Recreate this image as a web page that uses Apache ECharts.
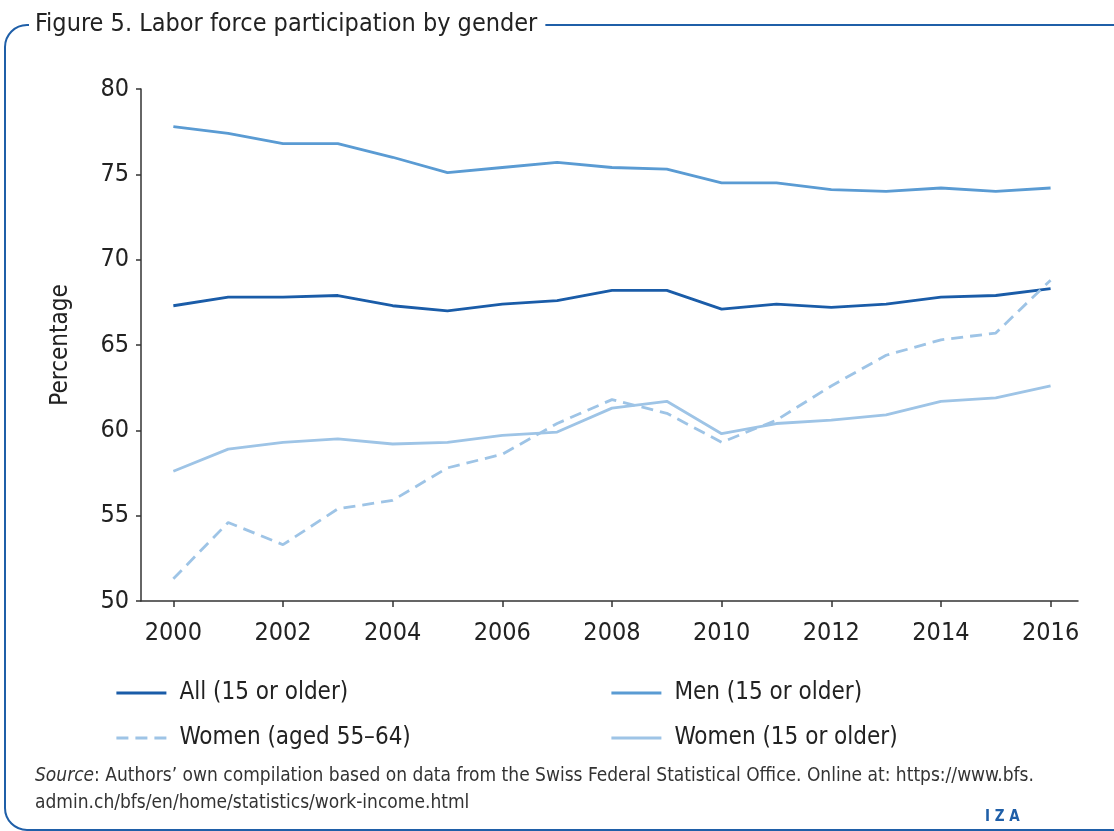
<!DOCTYPE html>
<html>
<head>
<meta charset="utf-8">
<script src="https://cdn.jsdelivr.net/npm/echarts@6/dist/echarts.min.js"></script>
<style>
  html, body { margin: 0; padding: 0; background: #fff; }
  #chart { width: 1114px; height: 831px; }
</style>
</head>
<body>
<div id="chart"></div>
<script>
// data
const years = [2000, 2001, 2002, 2003, 2004, 2005, 2006, 2007, 2008, 2009, 2010, 2011, 2012, 2013, 2014, 2015, 2016]
const allPeople = [67.3, 67.8, 67.8, 67.9, 67.3, 67.0, 67.4, 67.6, 68.2, 68.2, 67.1, 67.4, 67.2, 67.4, 67.8, 67.9, 68.3]
const men = [77.8, 77.4, 76.8, 76.8, 76.0, 75.1, 75.4, 75.7, 75.4, 75.3, 74.5, 74.5, 74.1, 74.0, 74.2, 74.0, 74.2]
const womenOlder = [51.3, 54.6, 53.3, 55.4, 55.9, 57.8, 58.6, 60.4, 61.8, 61.0, 59.3, 60.6, 62.6, 64.4, 65.3, 65.7, 68.8]
const women = [57.6, 58.9, 59.3, 59.5, 59.2, 59.3, 59.7, 59.9, 61.3, 61.7, 59.8, 60.4, 60.6, 60.9, 61.7, 61.9, 62.6]
const yearTicks = [2000, 2002, 2004, 2006, 2008, 2010, 2012, 2014, 2016]

const font = '"Liberation Sans Narrow", "DejaVu Sans Condensed", sans-serif'
const pairs = arr => years.map((y, i) => [y, arr[i]])

function line(name, arr, color, dashed) {
  return {
    name,
    type: 'line',
    data: pairs(arr),
    symbol: 'none',
    silent: true,
    lineStyle: { color, width: 2.8, type: dashed ? [12, 7] : 'solid' },
    itemStyle: { color },
  }
}

const legendBase = {
  orient: 'vertical',
  top: 676,
  itemWidth: 50,
  itemHeight: 14,
  itemGap: 21,
  selectedMode: false,
  itemStyle: { color: 'transparent', borderWidth: 0, opacity: 0 },
  lineStyle: { width: 2.8 },
  textStyle: { fontSize: 24, color: '#222', padding: [0, 0, 0, 8], fontFamily: font },
}

const chart = echarts.init(document.getElementById('chart'))
chart.setOption({
  animation: false,
  textStyle: { fontFamily: font },
  grid: { left: 141, right: 36, top: 89, bottom: 230 },
  xAxis: {
    type: 'value',
    min: 1999.41,
    max: 2016.5,
    splitLine: { show: false },
    axisLine: { lineStyle: { color: '#333', width: 1.5 } },
    axisTick: { show: true, length: 6, lineStyle: { color: '#333', width: 1.5 }, customValues: yearTicks },
    axisLabel: { customValues: yearTicks, fontSize: 25, color: '#222', margin: 20, fontFamily: font, formatter: v => String(v) },
  },
  yAxis: {
    type: 'value',
    min: 50,
    max: 80,
    interval: 5,
    name: 'Percentage',
    nameLocation: 'middle',
    nameGap: 68,
    nameTextStyle: { fontSize: 24, color: '#222', fontFamily: font },
    splitLine: { show: false },
    axisLine: { show: true, lineStyle: { color: '#333', width: 1.5 } },
    axisTick: { show: true, length: 5, lineStyle: { color: '#333', width: 1.5 } },
    axisLabel: { fontSize: 25, color: '#222', margin: 12, fontFamily: font },
  },
  legend: [
    Object.assign({}, legendBase, { left: 110, data: ['All (15 or older)', 'Women (aged 55–64)'] }),
    Object.assign({}, legendBase, { left: 605, data: ['Men (15 or older)', 'Women (15 or older)'] }),
  ],
  series: [
    line('All (15 or older)', allPeople, '#1a5ca8', false),
    line('Men (15 or older)', men, '#5a9bd3', false),
    line('Women (aged 55–64)', womenOlder, '#9ec4e6', true),
    line('Women (15 or older)', women, '#9ec4e6', false),
  ],
  graphic: [
    {
      type: 'rect',
      shape: { x: 5, y: 25, width: 1200, height: 805, r: 22 },
      style: { fill: 'none', stroke: '#1f5fa8', lineWidth: 2 },
      silent: true,
    },
    {
      type: 'text',
      left: 29,
      top: 12,
      style: {
        text: 'Figure 5. Labor force participation by gender',
        font: '25px ' + font,
        fill: '#222',
        backgroundColor: '#fff',
        padding: [0, 8, 0, 6],
      },
    },
    {
      type: 'text',
      left: 35,
      top: 763,
      style: {
        text: '{i|Source}: Authors’ own compilation based on data from the Swiss Federal Statistical Office. Online at: https://www.bfs.\nadmin.ch/bfs/en/home/statistics/work-income.html',
        font: '19px ' + font,
        fill: '#333',
        lineHeight: 27,
        rich: { i: { fontStyle: 'italic', fontSize: 19, fontFamily: font, fill: '#333' } },
      },
    },
    {
      type: 'text',
      left: 985,
      top: 810,
      style: { text: 'I Z A', font: 'bold 15px ' + font, fill: '#1f5fa8' },
    },
  ],
})
</script>
</body>
</html>
